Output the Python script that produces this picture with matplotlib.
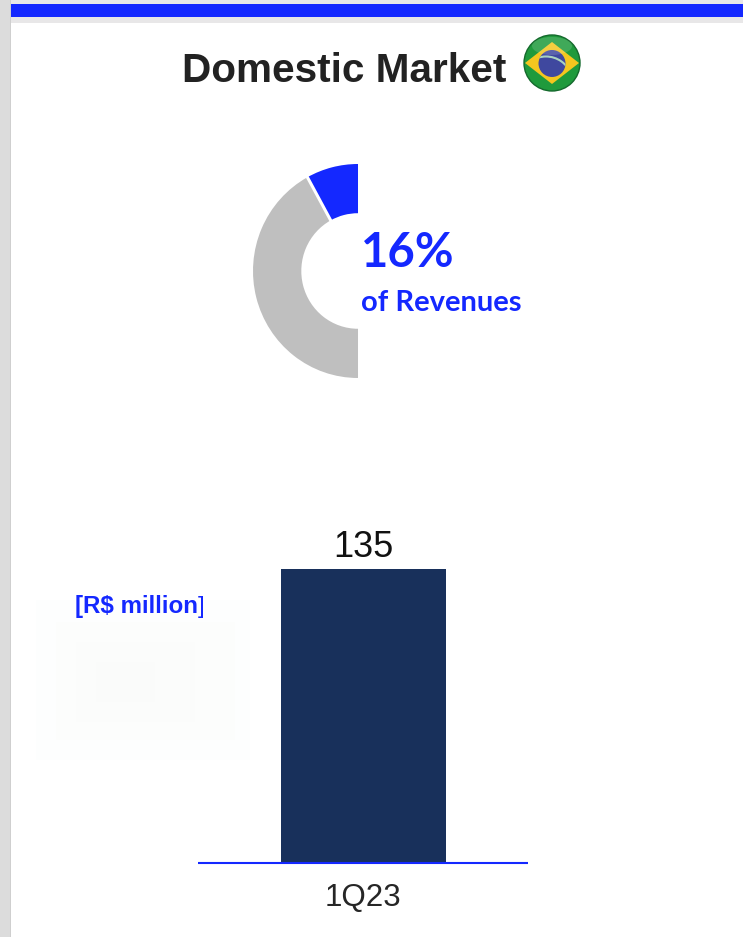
import matplotlib
matplotlib.use('Agg')
import matplotlib.pyplot as plt
import numpy as np
from matplotlib.patches import Arc, Circle, Ellipse, Polygon, Rectangle

W, H = 743, 937
BLUE = '#1428ff'
NAVY = '#18305b'

share_labels = ['Domestic', 'Other', 'Hidden half']
share_values = [16, 84, 100]
quarters = ['1Q23']
revenues = [135]


def px_axes(fig, left, top, right, bottom, **kw):
    # axes placed with pixel edges, measured from the top left
    return fig.add_axes([left / W, 1 - bottom / H, (right - left) / W, (bottom - top) / H], **kw)


fig = plt.figure(figsize=((W + 0.01) / 100, (H + 0.01) / 100), dpi=100, facecolor='white')

# page furniture, in pixel coordinates
bg = fig.add_axes([0, 0, 1, 1])
bg.set_xlim(0, W)
bg.set_ylim(H, 0)
bg.axis('off')
bg.add_patch(Rectangle((0, 0), 11, H, fc='#dcdcdc', ec='none'))
bg.add_patch(Rectangle((10, 0), 1, H, fc='#cfcfcf', ec='none'))
bg.add_patch(Rectangle((11, 0), W - 11, 23, fc='#e8e7e8', ec='none'))
bg.add_patch(Rectangle((11, 4), W - 11, 13, fc=BLUE, ec='none'))

# faint smudge behind the unit label
for x0, y0, x1, y1, col in [(36, 600, 250, 760, '#fdfefe'),
                            (56, 622, 235, 740, '#fcfdfc'),
                            (76, 642, 195, 722, '#fbfcfb'),
                            (96, 662, 155, 702, '#fafbfa')]:
    bg.add_patch(Rectangle((x0, y0), x1 - x0, y1 - y0, fc=col, ec='none'))

bg.text(344, 82, 'Domestic Market', family='Liberation Sans', weight='bold',
        fontsize=29.2, color='#222222', ha='center', va='baseline')

# flag badge
cx, cy, r = 552, 63, 28
disc = Circle((cx, cy), r, fc='#1f9a3c', ec='#14692c', lw=1)
bg.add_patch(disc)
diamond = Polygon([(cx - 27, cy), (cx, cy - 21), (cx + 27, cy), (cx, cy + 21)], fc='#f4c61f', ec='none')
bg.add_patch(diamond)
diamond.set_clip_path(disc)
globe = Circle((cx, cy + 0.5), 13.5, fc='#3f489f', ec='none')
bg.add_patch(globe)
band = Arc((cx - 6, cy + 20), 53, 53, theta1=200, theta2=340, color='#a9d3c0', lw=1.5)
bg.add_patch(band)
band.set_clip_path(globe)
gloss = Ellipse((cx, cy - 17), 40, 18, fc='white', ec='none', alpha=0.15)
bg.add_patch(gloss)
gloss.set_clip_path(disc)

# half donut, the right hand part of the ring below the blue slice stays empty
ax1 = px_axes(fig, 253, 164, 463, 378)
wedges, _ = ax1.pie(share_values, colors=[BLUE, '#bfbfbf', 'none'], startangle=90, counterclock=True,
                    radius=1, wedgeprops={'width': 0.46, 'linewidth': 0})
ax1.set_aspect('auto')
ax1.set_xlim(-1, 1)
ax1.set_ylim(-1, 1)
ax1.patch.set_alpha(0)

# white gap between the two slices
gap = np.deg2rad(90 + 360 * share_values[0] / sum(share_values))
ax1.plot([0.5 * np.cos(gap), 1.02 * np.cos(gap)], [0.5 * np.sin(gap), 1.02 * np.sin(gap)],
         color='white', lw=2.2, solid_capstyle='butt')

bg.text(361, 267, '16%', family='Lato', weight='bold', fontsize=34, color=BLUE, ha='left', va='baseline')
bg.text(361, 311, 'of Revenues', family='Lato', weight='bold', fontsize=21, color=BLUE, ha='left', va='baseline')

bg.text(75, 613, '[R$ million', family='Liberation Sans', weight='bold', fontsize=17.4, color=BLUE,
        ha='left', va='baseline')
bg.text(198, 613, ']', family='Liberation Sans', fontsize=17.4, color=BLUE, ha='left', va='baseline')

# revenue bar
ax2 = px_axes(fig, 198, 569, 528, 863.5)
ax2.patch.set_alpha(0)
bars = ax2.bar(quarters, revenues, width=1, color=NAVY)
ax2.set_xlim(-1, 1)
ax2.set_ylim(0, revenues[0])
ax2.bar_label(bars, fontsize=26, family='Liberation Sans', color='#111111', padding=3, clip_on=False)
ax2.set_yticks([])
ax2.tick_params(axis='x', length=0, pad=14, labelsize=22.5, labelcolor='#262626')
for lab in ax2.get_xticklabels():
    lab.set_family('Liberation Sans')
for side in ['top', 'left', 'right']:
    ax2.spines[side].set_visible(False)
ax2.spines['bottom'].set_color(BLUE)
ax2.spines['bottom'].set_linewidth(1.5)
ax2.spines['bottom'].set_capstyle('butt')

fig.savefig('out.png', dpi=100)
